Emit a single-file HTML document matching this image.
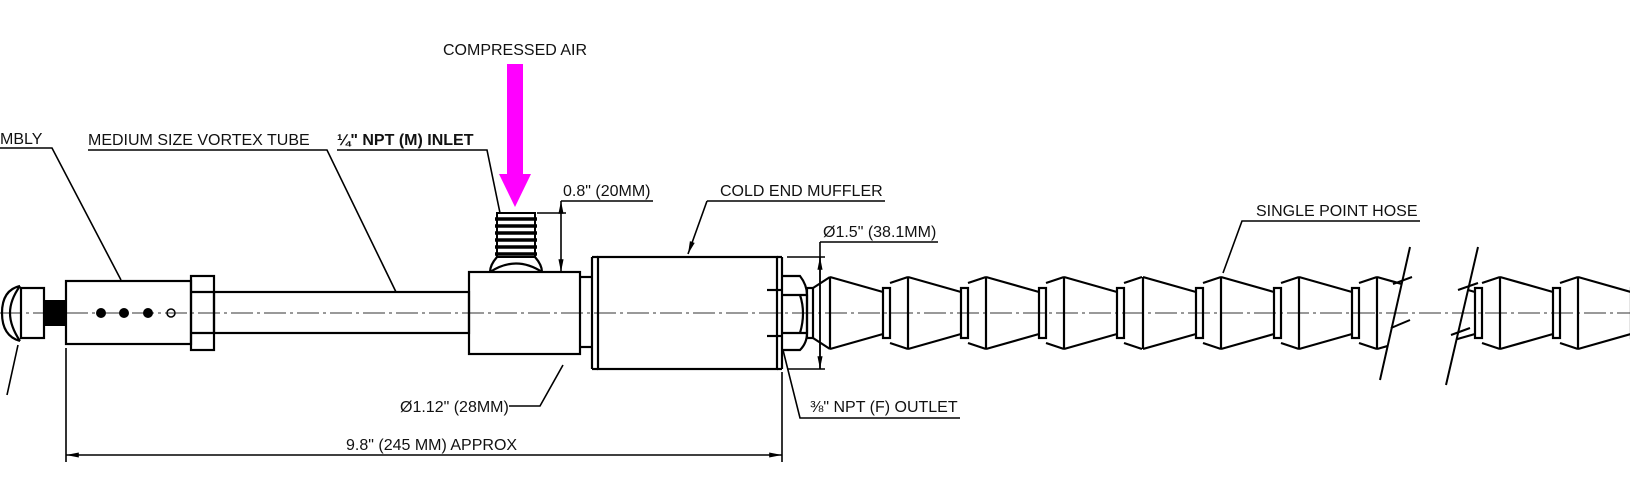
<!DOCTYPE html>
<html><head><meta charset="utf-8"><style>
html,body{margin:0;padding:0;background:#fff;}
svg{display:block;}
text{font-family:"Liberation Sans",sans-serif;font-size:16px;fill:#111;}
</style></head><body>
<svg width="1630" height="496" viewBox="0 0 1630 496" xmlns="http://www.w3.org/2000/svg">
<defs>
<g id="seg" fill="none" stroke="#000" stroke-width="2.2">
<line x1="0" y1="277" x2="0" y2="349"/>
<line x1="0" y1="277" x2="53" y2="292"/>
<line x1="0" y1="349" x2="53" y2="334"/>
<rect x="53" y="288" width="7" height="50"/>
<line x1="60" y1="283" x2="78" y2="277"/>
<line x1="60" y1="343" x2="78" y2="349"/>
</g>
<clipPath id="cl"><polygon points="0,0 1466,0 1354,496 0,496"/></clipPath>
<clipPath id="cr"><polygon points="1535,0 1630,0 1630,496 1420,496"/></clipPath>
<marker id="ar" viewBox="0 0 10 10" refX="10" refY="5" markerWidth="8" markerHeight="8" orient="auto-start-reverse"><path d="M0,3 L10,5 L0,7 Z" fill="#000"/></marker>
</defs>

<line x1="0" y1="313" x2="1630" y2="313" stroke="#333" stroke-width="1" stroke-dasharray="22,4,3,4"/>

<g fill="none" stroke="#000" stroke-width="2.2">
<path d="M20,286 Q2,290 2,313 Q2,336 20,341"/>
<path d="M20,286 Q10,300 10,313 Q10,326 20,341"/>
<rect x="21" y="288" width="23" height="50"/>
<rect x="66" y="281" width="125" height="63"/>
<rect x="191" y="276" width="23" height="74"/>
<line x1="191" y1="292" x2="214" y2="292"/>
<line x1="191" y1="333" x2="214" y2="333"/>
<rect x="214" y="292" width="255" height="41"/>
<rect x="469" y="272" width="111" height="82"/>
<path d="M497,257 Q490,265 490,272 M535,257 Q542,265 542,272"/>
<path d="M490,272 Q516,255 542,272" />
<line x1="580" y1="277" x2="592" y2="277"/>
<line x1="580" y1="347" x2="592" y2="347"/>
<line x1="592" y1="257" x2="592" y2="369"/>
<rect x="598" y="257" width="179" height="112"/>
<line x1="592" y1="257" x2="598" y2="257"/><line x1="592" y1="369" x2="598" y2="369"/>
<line x1="782" y1="257" x2="782" y2="369"/>
<line x1="777" y1="257" x2="782" y2="257"/><line x1="777" y1="369" x2="782" y2="369"/>
<line x1="767" y1="290" x2="783" y2="290"/><line x1="767" y1="336" x2="783" y2="336"/>
<path d="M783,276 L800,276 Q807,285 807,295 L807,333 Q807,343 800,350 L783,350"/>
<line x1="783" y1="295" x2="807" y2="295"/><line x1="783" y1="333" x2="807" y2="333"/>
<path d="M800,295 Q806,313 800,333"/>
<rect x="807" y="288" width="6" height="50"/>
<line x1="813" y1="288" x2="830" y2="277"/><line x1="813" y1="338" x2="830" y2="349"/>
</g>
<rect x="44" y="300" width="22" height="26" fill="#000"/>
<rect x="497" y="213" width="38" height="44" fill="#fff" stroke="#000" stroke-width="2"/>
<g stroke="#000" stroke-width="3.5">
<line x1="495" y1="219" x2="537" y2="219"/><line x1="495" y1="226" x2="537" y2="226"/><line x1="495" y1="233" x2="537" y2="233"/><line x1="495" y1="240" x2="537" y2="240"/><line x1="495" y1="247" x2="537" y2="247"/><line x1="495" y1="254" x2="537" y2="254"/>
</g>
<circle cx="101" cy="313" r="5"/><circle cx="124" cy="313" r="5"/><circle cx="148" cy="313" r="5"/>
<circle cx="171" cy="313" r="4" fill="none" stroke="#000" stroke-width="1.5"/>

<g clip-path="url(#cl)">
<use href="#seg" x="830"/><use href="#seg" x="908"/><use href="#seg" x="986"/><use href="#seg" x="1064"/><use href="#seg" x="1143"/><use href="#seg" x="1221"/><use href="#seg" x="1299"/><use href="#seg" x="1377"/>
</g>
<g clip-path="url(#cr)">
<use href="#seg" x="1422"/><use href="#seg" x="1500"/><use href="#seg" x="1578"/>
</g>
<g stroke="#000" stroke-width="2" fill="none">
<line x1="1410" y1="247" x2="1380" y2="380"/>
<line x1="1478" y1="247" x2="1446" y2="385"/>
<path d="M1393,284 L1412,277 M1391,328 L1410,320 M1458,290 L1478,283 M1451,335 L1470,328"/>
</g>

<rect x="507" y="64" width="16" height="112" fill="#ff00ff"/>
<polygon points="499,174 531,174 515,207" fill="#ff00ff"/>

<g stroke="#000" stroke-width="1.6" fill="none">
<polyline points="0,148 52,148 121,280"/>
<polyline points="88,150 327,150 396,292"/>
<polyline points="337,150 487,150 500,213"/>
<polyline points="537,213 566,213"/>
<line x1="561" y1="201" x2="653" y2="201"/>
<line x1="561" y1="201" x2="561" y2="272" marker-start="url(#ar)" marker-end="url(#ar)"/>
<polyline points="707,201 885,201"/><line x1="707" y1="201" x2="688" y2="254" marker-end="url(#ar)"/>
<line x1="787" y1="257" x2="825" y2="257"/><line x1="787" y1="369" x2="825" y2="369"/>
<line x1="820" y1="242" x2="820" y2="369"/>
<line x1="820" y1="257" x2="820" y2="369" marker-start="url(#ar)" marker-end="url(#ar)"/>
<line x1="820" y1="242" x2="938" y2="242"/>
<polyline points="960,418 800,418 783,350"/>
<polyline points="509,406 540,406 563,365"/>
<line x1="66" y1="348" x2="66" y2="462"/>
<line x1="782" y1="372" x2="782" y2="462"/>
<line x1="66" y1="455" x2="782" y2="455" marker-start="url(#ar)" marker-end="url(#ar)"/>
<polyline points="1420,221 1242,221 1223,273"/>
<line x1="7" y1="395" x2="18" y2="345"/>
</g>

<text x="443" y="55">COMPRESSED AIR</text>
<text x="0" y="144">MBLY</text>
<text x="88" y="145">MEDIUM SIZE VORTEX TUBE</text>
<text x="337" y="145" font-weight="bold">¼" NPT (M) INLET</text>
<text x="563" y="196">0.8" (20MM)</text>
<text x="720" y="196">COLD END MUFFLER</text>
<text x="823" y="237">Ø1.5" (38.1MM)</text>
<text x="1256" y="216">SINGLE POINT HOSE</text>
<text x="400" y="412">Ø1.12" (28MM)</text>
<text x="810" y="412">⅜" NPT (F) OUTLET</text>
<text x="346" y="450">9.8" (245 MM) APPROX</text>
</svg>
</body></html>
